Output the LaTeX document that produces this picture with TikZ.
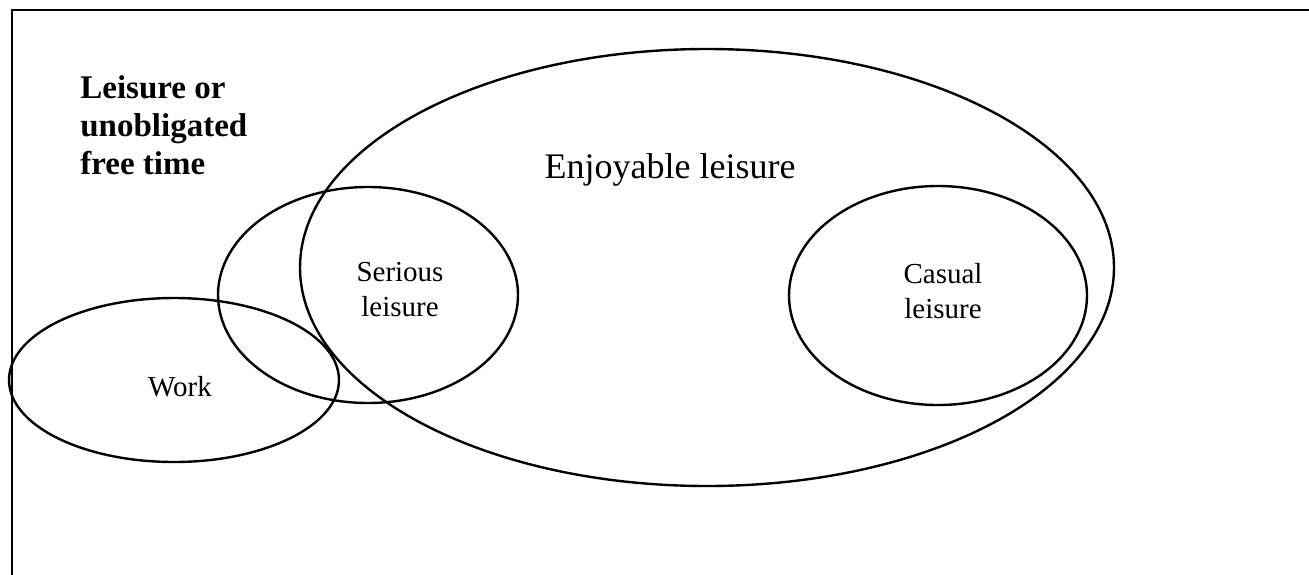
\documentclass[tikz,border=0pt]{standalone}
\usepackage{fontspec}
\setmainfont{Liberation Serif}
\usetikzlibrary{shapes.geometric}
\begin{document}
\begin{tikzpicture}[x=0.5pt,y=-0.5pt,
  setel/.style={ellipse, draw, line width=1.2pt, inner sep=0pt, outer sep=0pt},
  lbl/.style={inner sep=0pt, font=\fontsize{14.5}{17.5}\selectfont, align=center},
  framel/.style={line width=0.9pt},
]
\useasboundingbox (0,0) rectangle (1309,574);
\coordinate (fbl) at (12,590);
\coordinate (ftr) at (1320,10);
\draw[framel] (fbl) |- (ftr);
\node[setel, minimum width=407pt, minimum height=218.5pt] (enjoy) at (707,267.5) {};
\node[setel, minimum width=150pt, minimum height=108pt] (serious) at (368,295) {};
\node[setel, minimum width=165pt, minimum height=82pt] (work) at (174,380) {};
\node[setel, minimum width=149pt, minimum height=109.5pt] (casual) at (938,295.5) {};
\node[lbl] (tserious) at (400,290) {Serious\\leisure};
\node[lbl] (tcasual) at (943,291) {Casual\\leisure};
\node[lbl, anchor=base] (twork) at (180,396) {Work};
\node[inner sep=0pt, font=\fontsize{18}{21}\selectfont, anchor=base] (tenjoy) at (670,178) {Enjoyable leisure};
\node[inner sep=0pt, font=\bfseries\fontsize{16.5}{19}\selectfont, align=left, anchor=north west] (tfree) at (80,75) {Leisure or\\unobligated\\free time};
\end{tikzpicture}
\end{document}
